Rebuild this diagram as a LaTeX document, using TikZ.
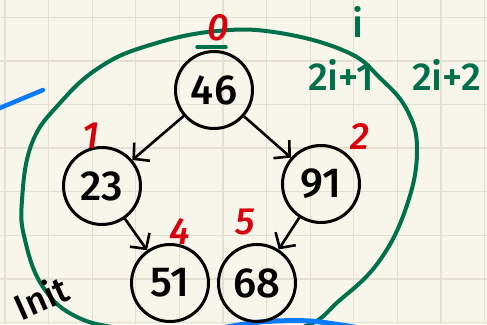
\documentclass[tikz,border=0pt]{standalone}
\usepackage{fontspec}
\setmainfont{Fira Sans}[BoldFont={Fira Sans Medium},BoldItalicFont={Fira Sans Medium Italic}]
\usetikzlibrary{arrows.meta}
\definecolor{paper}{HTML}{F8F6EA}
\definecolor{gridc}{HTML}{E3E0D2}
\definecolor{inkred}{HTML}{D8000C}
\definecolor{inkgreen}{HTML}{00704C}
\definecolor{inkblue}{HTML}{0A7BFF}
\begin{document}
\begin{tikzpicture}[x=1pt,y=-1pt,
  heapnode/.style={circle,draw,line width=3pt,minimum size=77pt,inner sep=0pt,font=\fontsize{42}{44}\selectfont\bfseries},
  edge/.style={line width=2.6pt,-{Straight Barb[length=11pt,width=24pt]}},
  idx/.style={text=inkred,font=\fontsize{38}{40}\selectfont\bfseries\itshape,inner sep=0pt},
  note/.style={text=inkgreen,font=\fontsize{39}{40}\selectfont\bfseries,inner sep=0pt},
  gridline/.style={gridc,line width=1.3pt}]
\fill[paper] (0,0) rectangle (487,324);
\useasboundingbox (0,0) rectangle (487,324);
\clip (0,0) rectangle (487,324);
\foreach \k in {0,...,11} \draw[gridline] ({5+43.6*\k},0) -- ({5+43.6*\k},324);
\foreach \k in {0,...,7} \draw[gridline] (0,{17.3+43.6*\k}) -- (487,{17.3+43.6*\k});
% green loop
\draw[inkgreen,line width=4pt] plot[smooth cycle, tension=0.7] coordinates {
 (22,200) (32,143) (60,103) (100,67) (150,45) (217,31) (280,33) (347,52) (380,78)
 (407,110) (417,150) (407,205) (380,260) (340,300) (300,328) (210,342) (130,330)
 (77,317) (43,287) (25,240)};
% blue strokes
\draw[inkblue,line width=4.5pt,line cap=round] (-5,110) -- (43,90);
\draw[inkblue,line width=5pt] plot[smooth] coordinates {(210,330) (260,322) (310,321) (360,328)};
% nodes
\node[heapnode] (n0) at (214,90) {46};
\node[heapnode] (n1) at (102,186) {23};
\node[heapnode] (n2) at (321,184) {91};
\node[heapnode] (n4) at (170,283) {51};
\node[heapnode] (n5) at (257,283) {68};
\draw[edge] (n0) -- (n1);
\draw[edge] (n0) -- (n2);
\draw[edge] (n1) -- (n4);
\draw[edge] (n2) -- (n5);
% index labels
\node[idx] (l0) at (218,28) {0};
\draw[inkgreen,line width=3.5pt,line cap=round] (197,47) -- (226,47);
\node[idx] (l1) at (91,136) {1};
\node[idx] (l2) at (360,136) {2};
\node[idx] (l4) at (180,231) {4};
\node[idx] (l5) at (245,222) {5};
% green notes
\node[note] (ni) at (358,22) {i};
\node[note] (n21) at (341,75) {2i+1};
\node[note,anchor=west] (n22) at (412,75) {2i+2};
% init
\node[font=\fontsize{36}{38}\selectfont\bfseries,rotate=24,inner sep=0pt] (init) at (41,297) {Init};
\end{tikzpicture}
\end{document}
